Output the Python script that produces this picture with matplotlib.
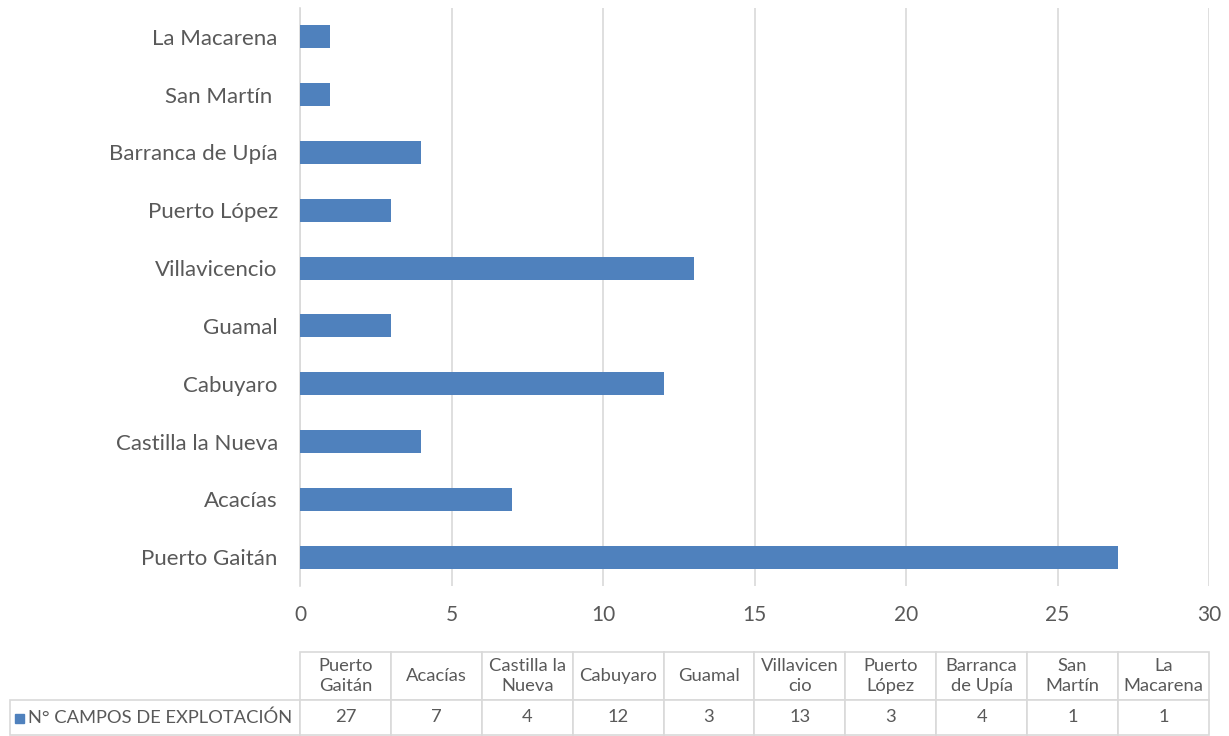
import matplotlib.pyplot as plt
from matplotlib.patches import Rectangle

# datos: campos de explotación por municipio
municipios = ["Puerto Gaitán", "Acacías", "Castilla la Nueva", "Cabuyaro", "Guamal",
              "Villavicencio", "Puerto López", "Barranca de Upía", "San Martín ", "La Macarena"]
encabezados = ["Puerto\nGaitán", "Acacías", "Castilla la\nNueva", "Cabuyaro", "Guamal",
               "Villavicen\ncio", "Puerto\nLópez", "Barranca\nde Upía", "San\nMartín", "La\nMacarena"]
campos = [27, 7, 4, 12, 3, 13, 3, 4, 1, 1]
serie = "N° CAMPOS DE EXPLOTACIÓN"
xticks = [0, 5, 10, 15, 20, 25, 30]

azul = "#4f81bd"
gris_txt = "#595959"
gris_lin = "#d9d9d9"

plt.rcParams['font.family'] = ['Lato', 'DejaVu Sans']

W, H = 1229, 736
fig = plt.figure(figsize=(W / 100, H / 100), dpi=100)
ax = fig.add_axes([300 / W, 1 - 586 / H, 909 / W, 578 / H])

ypos = list(range(len(municipios)))
ax.barh(ypos, campos, height=0.4, color=azul, zorder=3)
ax.set_ylim(-0.5, len(municipios) - 0.5)
ax.set_xlim(0, 30)
ax.set_xticks(xticks)
ax.set_yticks(ypos)
ax.set_yticklabels(municipios)
ax.tick_params(axis='x', length=0, pad=14, labelsize=15, labelcolor=gris_txt)
ax.tick_params(axis='y', length=0, pad=16, labelsize=16, labelcolor=gris_txt)
ax.grid(axis='x', color=gris_lin, linewidth=1.2, zorder=0)
for s in ["top", "right", "bottom"]:
    ax.spines[s].set_visible(False)
ax.spines["left"].set_color(gris_lin)
ax.spines["left"].set_linewidth(1.2)

# tabla de datos: eje auxiliar cuyo borde inferior marca el tope de la tabla
ax_t = fig.add_axes([300 / W, 1 - 652 / H, 909 / W, 66 / H])
ax_t.axis('off')
n = len(campos)
tab = ax_t.table(cellText=[[str(v) for v in campos]],
                 colLabels=encabezados,
                 rowLabels=[serie],
                 colWidths=[1 / n] * n,
                 cellLoc='center', rowLoc='left',
                 loc='bottom')
tab._autoColumns = []  # ancho fijo para la columna de la leyenda
tab.auto_set_font_size(False)
tab.set_fontsize(13.2)
for (r, c), cell in tab.get_celld().items():
    cell.set_edgecolor(gris_lin)
    cell.set_linewidth(1.2)
    cell.get_text().set_color(gris_txt)
    cell.set_height((48 if r == 0 else 35) / 66)
    if r == 0:
        cell.get_text().set_linespacing(1.35)
    if c == -1:
        cell.set_width(290 / 909)
        cell.PAD = 0.062

fig.patches.append(Rectangle((15 / W, 1 - 723 / H), 9 / W, 9 / H,
                             transform=fig.transFigure, color=azul))

fig.savefig("out.png", dpi=100)
